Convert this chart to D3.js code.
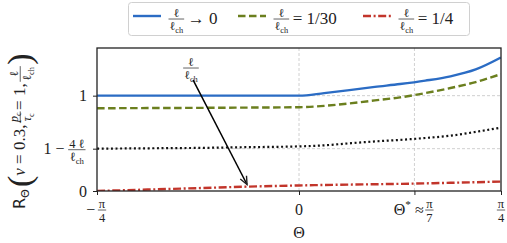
<!DOCTYPE html>
<html>
<head>
<meta charset="utf-8">
<script src="https://cdn.jsdelivr.net/npm/d3@7"></script>
<style>
  body { margin: 0; background: #fff; }
  svg { display: block; }
</style>
</head>
<body>
<div id="chart"></div>
<script>
// Data (theta in radians)
const theta = [-0.785, -0.589, -0.393, -0.196, 0, 0.098, 0.196, 0.295, 0.393, 0.491, 0.589, 0.687, 0.785];
const rLimit = [1.0, 1.0, 1.0, 1.0, 1.0, 1.027, 1.058, 1.092, 1.122, 1.158, 1.203, 1.275, 1.40];
const rThirty = [0.868, 0.870, 0.872, 0.875, 0.879, 0.893, 0.919, 0.95, 0.982, 1.027, 1.08, 1.143, 1.226];
const rQuarter = [0.0, 0.015, 0.03, 0.046, 0.058, 0.063, 0.067, 0.071, 0.075, 0.08, 0.086, 0.092, 0.099];
const rBound = [0.444, 0.448, 0.452, 0.46, 0.468, 0.479, 0.50, 0.52, 0.536, 0.556, 0.58, 0.62, 0.665];

const xTickVals = [-Math.PI / 4, 0, Math.PI / 7, Math.PI / 4];
const yTickVals = [0, 0.444, 1];
const annotTheta = [-0.412, -0.202];   // arrow start / end
const annotR = [1.165, 0.068];
const annotText = [-0.42, 1.29];

// Set dimensions and margins
let margin = { top: 48, right: 6, bottom: 52, left: 97 },
    W = 507, H = 243,
    width = W - margin.left - margin.right,
    height = H - margin.top - margin.bottom;

let x = d3.scaleLinear().domain([-Math.PI / 4, Math.PI / 4]).range([0, width]);
let y = d3.scaleLinear().domain([0, 1.5]).range([height, 0]);

const FS = 16;
const ink = '#222';
const serif = '"Liberation Serif", "DejaVu Serif", serif';

let svg = d3.select('#chart').append('svg')
    .attr('width', W).attr('height', H)
    .attr('font-family', serif);

// ---- small math typesetting helpers ----
function segText(g, segs, size) {
    const t = g.append('text').attr('font-size', size).attr('fill', ink)
        .attr('font-family', serif);
    let shift = 0;
    segs.forEach(([s, o = {}]) => {
        const target = o.sub ? size * 0.22 : (o.sup ? -size * 0.38 : 0);
        const ts = t.append('tspan').text(s)
            .attr('font-size', (o.sub || o.sup) ? size * 0.7 : size)
            .attr('dy', target - shift);
        shift = target;
        if (o.it) ts.attr('font-style', 'italic');
        if (o.sans) ts.attr('font-family', 'DejaVu Sans');
    });
    return t;
}

// lays items out left to right from x=0, baseline y=0; returns width
function mrow(g, items, size) {
    let cx = 0;
    items.forEach(it => {
        if (it.gap) { cx += it.gap; return; }
        if (it.frac) {
            const fs = it.fs || size * 0.68;
            const fg = g.append('g');
            const n = segText(fg, it.frac[0], fs).attr('text-anchor', 'middle');
            const d = segText(fg, it.frac[1], fs).attr('text-anchor', 'middle');
            const w = Math.max(n.node().getComputedTextLength(), d.node().getComputedTextLength()) + 2;
            const ax = -size * 0.28;
            n.attr('y', ax - 2.2);
            d.attr('y', ax + fs * 0.92);
            fg.append('line').attr('x1', -w / 2).attr('x2', w / 2)
                .attr('y1', ax).attr('y2', ax)
                .attr('stroke', ink).attr('stroke-width', 0.7);
            fg.attr('transform', 'translate(' + (cx + w / 2 + 1.5) + ',0)');
            cx += w + 3;
            return;
        }
        const t = segText(g, it.segs, it.fs || size).attr('x', cx);
        if (it.dy) t.attr('y', it.dy);
        cx += t.node().getComputedTextLength();
    });
    return cx;
}

const ellCh = [['ℓ'], ['ch', { sub: 1 }]];

let plot = svg.append('g')
    .attr('transform', 'translate(' + margin.left + ',' + margin.top + ')');

plot.append('clipPath').attr('id', 'clip')
    .append('rect').attr('width', width).attr('height', height);

// grid lines
plot.selectAll('.vgrid').data([0, Math.PI / 7]).enter().append('line')
    .attr('x1', d => x(d)).attr('x2', d => x(d))
    .attr('y1', 0).attr('y2', height)
    .attr('stroke', '#c4c4c4').attr('stroke-width', 0.8).attr('stroke-dasharray', '3,2');
plot.selectAll('.hgrid').data([0.444, 1]).enter().append('line')
    .attr('x1', 0).attr('x2', width)
    .attr('y1', d => y(d)).attr('y2', d => y(d))
    .attr('stroke', '#c4c4c4').attr('stroke-width', 0.8).attr('stroke-dasharray', '3,2');

// curves
const series = [
    { vals: rBound, color: '#111', dash: '2,2.6', w: 2.2 },
    { vals: rQuarter, color: '#c2352b', dash: '8,2.6,2,2.6', w: 2.4 },
    { vals: rThirty, color: '#6b7f1e', dash: '7.5,3.5', w: 2.4 },
    { vals: rLimit, color: '#2b6cc4', dash: null, w: 2.4 }
];
let line = d3.line()
    .x((d, i) => x(theta[i]))
    .y(d => y(d))
    .curve(d3.curveMonotoneX);

series.forEach(s => {
    plot.append('path')
        .datum(s.vals)
        .attr('clip-path', 'url(#clip)')
        .attr('fill', 'none')
        .attr('stroke', s.color)
        .attr('stroke-width', s.w)
        .attr('stroke-dasharray', s.dash)
        .attr('d', line);
});

// axes (ticks only, labels typeset separately)
let xAxis = plot.append('g')
    .attr('transform', 'translate(0,' + height + ')')
    .call(d3.axisBottom(x).tickValues(xTickVals).tickSize(4).tickSizeOuter(0).tickFormat(''));
let yAxis = plot.append('g')
    .call(d3.axisLeft(y).tickValues(yTickVals).tickSize(4).tickSizeOuter(0).tickFormat(''));
[xAxis, yAxis].forEach(a => {
    a.select('.domain').remove();
    a.selectAll('line').attr('stroke', ink).attr('stroke-width', 1);
});

// frame
plot.append('rect').attr('width', width).attr('height', height)
    .attr('fill', 'none').attr('stroke', ink).attr('stroke-width', 1.3);

// x tick labels
const xLabels = [
    [{ segs: [['−']] }, { gap: 1 }, { frac: [[['π']], [['4']]], fs: 12.5 }],
    [{ segs: [['0']] }],
    [{ segs: [['Θ'], ['*', { sup: 1 }], [' ≈ ']] }, { frac: [[['π']], [['7']]], fs: 12.5 }],
    [{ frac: [[['π']], [['4']]], fs: 12.5 }]
];
xLabels.forEach((items, i) => {
    const g = plot.append('g');
    const w = mrow(g, items, FS);
    g.attr('transform', 'translate(' + (x(xTickVals[i]) - w / 2) + ',' + (height + 23.5) + ')');
});

// y tick labels
const yLabels = [
    [{ segs: [['0']] }],
    [{ segs: [['1 − ']] }, { gap: 2 }, { frac: [[['4 ℓ']], ellCh], fs: 12.5 }],
    [{ segs: [['1']] }]
];
yLabels.forEach((items, i) => {
    const g = plot.append('g');
    const w = mrow(g, items, FS);
    g.attr('transform', 'translate(' + (-10 - w) + ',' + (y(yTickVals[i]) + 5.5) + ')');
});

// axis titles
plot.append('text').attr('x', x(0)).attr('y', height + 46.5)
    .attr('text-anchor', 'middle').attr('font-size', FS).attr('fill', ink).text('Θ');

let ylab = svg.append('g').attr('transform', 'translate(25,209) rotate(-90)');
mrow(ylab, [
    { segs: [['R', { sans: 1 }], ['Θ', { sans: 1, sub: 1 }]], fs: 16 },
    { gap: 2 },
    { segs: [['(']], fs: 34, dy: 6 },
    { segs: [['ν', { it: 1 }], [' = 0.3, ']], fs: 17 },
    { frac: [[['p', { it: 1 }], ['c', { sub: 1 }]], [['τ', { it: 1 }], ['c', { sub: 1 }]]], fs: 12 },
    { segs: [[' = 1, ']], fs: 17 },
    { frac: [[['ℓ']], ellCh], fs: 12 },
    { segs: [[')']], fs: 34, dy: 6 }
], 17);

// annotation arrow
svg.append('defs').append('marker')
    .attr('id', 'head').attr('viewBox', '-10 -6 12 12')
    .attr('markerWidth', 12).attr('markerHeight', 12)
    .attr('refX', 0).attr('refY', 0).attr('orient', 'auto')
    .attr('markerUnits', 'userSpaceOnUse')
    .append('path').attr('d', 'M-8,-3.5 L0,0 L-8,3.5')
    .attr('fill', 'none').attr('stroke', ink).attr('stroke-width', 1.4);

plot.append('line')
    .attr('x1', x(annotTheta[0])).attr('y1', y(annotR[0]))
    .attr('x2', x(annotTheta[1])).attr('y2', y(annotR[1]))
    .attr('stroke', '#000').attr('stroke-width', 1.5)
    .attr('marker-end', 'url(#head)');

{
    const g = plot.append('g');
    const w = mrow(g, [{ frac: [[['ℓ']], ellCh], fs: 12 }], FS);
    g.attr('transform', 'translate(' + (x(annotText[0]) - w / 2) + ',' + (y(annotText[1]) + FS * 0.28) + ')');
}

// legend
let legend = svg.append('g');
legend.append('rect').attr('x', 128.5).attr('y', 2.5).attr('width', 341).attr('height', 33)
    .attr('rx', 3).attr('fill', '#fff').attr('stroke', '#d0d0d0').attr('stroke-width', 1);
const legItems = [
    { s: series[3], x: 133, items: [{ frac: [[['ℓ']], ellCh], fs: 12 }, { gap: 2 }, { segs: [[' → 0']], fs: 17 }] },
    { s: series[2], x: 238, items: [{ frac: [[['ℓ']], ellCh], fs: 12 }, { gap: 2 }, { segs: [[' = 1/30']], fs: 17 }] },
    { s: series[1], x: 363, items: [{ frac: [[['ℓ']], ellCh], fs: 12 }, { gap: 2 }, { segs: [[' = 1/4']], fs: 17 }] }
];
legItems.forEach(l => {
    legend.append('line')
        .attr('x1', l.x).attr('x2', l.x + 28)
        .attr('y1', 16).attr('y2', 16)
        .attr('stroke', l.s.color).attr('stroke-width', l.s.w)
        .attr('stroke-dasharray', l.s.dash);
    const g = legend.append('g').attr('transform', 'translate(' + (l.x + 34) + ',23.5)');
    mrow(g, l.items, FS);
});
</script>
</body>
</html>
